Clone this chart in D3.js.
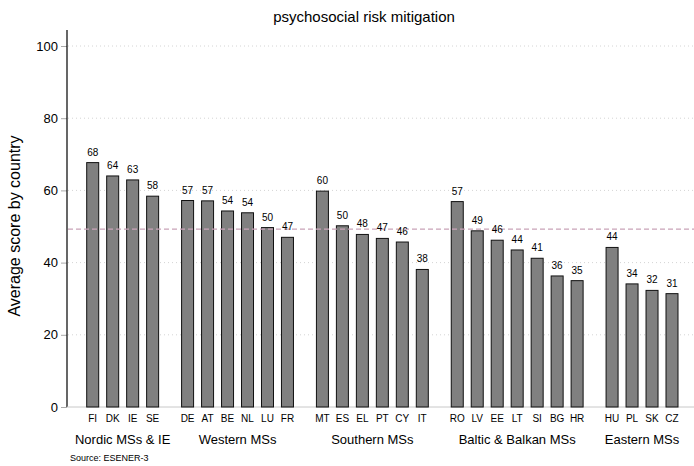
<!DOCTYPE html>
<html>
<head>
<meta charset="utf-8">
<script src="https://cdn.jsdelivr.net/npm/d3@7"></script>
<style>
  body { margin: 0; background: #fff; }
  text { font-family: "Liberation Sans", Arial, sans-serif; fill: #000; }
</style>
</head>
<body>
<svg id="chart"></svg>
<script>
// data
const groups = ['Nordic MSs & IE', 'Western MSs', 'Southern MSs', 'Baltic & Balkan MSs', 'Eastern MSs'];
const countries = [
  ['FI', 'DK', 'IE', 'SE'],
  ['DE', 'AT', 'BE', 'NL', 'LU', 'FR'],
  ['MT', 'ES', 'EL', 'PT', 'CY', 'IT'],
  ['RO', 'LV', 'EE', 'LT', 'SI', 'BG', 'HR'],
  ['HU', 'PL', 'SK', 'CZ']
];
const scores = [
  [67.7, 64.0, 62.9, 58.4],
  [57.2, 57.1, 54.3, 53.8, 49.7, 47.0],
  [59.8, 50.2, 47.8, 46.7, 45.7, 38.1],
  [56.9, 48.8, 46.2, 43.5, 41.2, 36.3, 35.0],
  [44.2, 34.1, 32.3, 31.4]
];
const meanScore = 49.3;
const yTicks = [0, 20, 40, 60, 80, 100];
const title = 'psychosocial risk mitigation';
const yTitle = 'Average score by country';
const source = 'Source: ESENER-3';

const width = 694, height = 466;
const gapSlots = 0.75;

// flatten into rows with a slot position (groups separated by a gap)
const rows = [];
let slot = 0;
groups.forEach(function(g, gi) {
  countries[gi].forEach(function(c, ci) {
    rows.push({ group: g, gi: gi, country: c, value: scores[gi][ci], pos: slot });
    slot += 1;
  });
  slot += gapSlots;
});
const lastPos = rows[rows.length - 1].pos;

const svg = d3.select('#chart').attr('width', width).attr('height', height);

const x = d3.scaleLinear().domain([0, lastPos]).range([92.7, 672]);
const y = d3.scaleLinear().domain([0, 100]).range([407, 46]);
const barW = 12;

// grid lines
svg.append('g')
  .selectAll('line')
  .data(yTicks.filter(function(d) { return d > 0; }))
  .enter().append('line')
  .attr('x1', 68).attr('x2', width)
  .attr('y1', function(d) { return y(d); })
  .attr('y2', function(d) { return y(d); })
  .attr('stroke', '#d4d4d4')
  .attr('stroke-width', 1)
  .attr('stroke-dasharray', '1,3');

// y axis
const yAxis = d3.axisLeft(y).tickValues(yTicks).tickSize(6).tickPadding(3);
const yg = svg.append('g').attr('transform', 'translate(67,0)').call(yAxis);
yg.select('.domain').remove();
yg.selectAll('.tick line').attr('stroke', '#aaa');
yg.selectAll('.tick text')
  .style('font-size', '13px')
  .style('font-family', '"Liberation Sans", Arial, sans-serif');

svg.append('line')
  .attr('x1', 67).attr('x2', 67)
  .attr('y1', 30).attr('y2', 407)
  .attr('stroke', '#000').attr('stroke-width', 1.2);

// zero baseline
svg.append('line')
  .attr('x1', 67).attr('x2', width)
  .attr('y1', y(0)).attr('y2', y(0))
  .attr('stroke', '#c8c8c8').attr('stroke-width', 1);

// bars
svg.append('g')
  .selectAll('rect')
  .data(rows)
  .enter().append('rect')
  .attr('x', function(d) { return x(d.pos) - barW / 2; })
  .attr('y', function(d) { return y(d.value); })
  .attr('width', barW)
  .attr('height', function(d) { return y(0) - y(d.value); })
  .attr('fill', '#808080')
  .attr('stroke', '#111')
  .attr('stroke-width', 1);

// mean line
svg.append('line')
  .attr('x1', 68).attr('x2', width)
  .attr('y1', y(meanScore)).attr('y2', y(meanScore))
  .attr('stroke', '#c9a3b8')
  .attr('stroke-width', 1.2)
  .attr('stroke-dasharray', '5,3');

// value labels
svg.append('g')
  .selectAll('text')
  .data(rows)
  .enter().append('text')
  .attr('x', function(d) { return x(d.pos); })
  .attr('y', function(d) { return y(d.value) - 7; })
  .attr('text-anchor', 'middle')
  .style('font-size', '10px')
  .text(function(d) { return Math.round(d.value); });

// country labels
svg.append('g')
  .selectAll('text')
  .data(rows)
  .enter().append('text')
  .attr('x', function(d) { return x(d.pos); })
  .attr('y', 422)
  .attr('text-anchor', 'middle')
  .style('font-size', '10px')
  .text(function(d) { return d.country; });

// group labels
svg.append('g')
  .selectAll('text')
  .data(groups)
  .enter().append('text')
  .attr('x', function(d, gi) {
    const r = rows.filter(function(row) { return row.gi === gi; });
    return (x(r[0].pos) + x(r[r.length - 1].pos)) / 2;
  })
  .attr('y', 444)
  .attr('text-anchor', 'middle')
  .style('font-size', '13px')
  .text(function(d) { return d; });

// titles
svg.append('text')
  .attr('x', 364).attr('y', 22)
  .attr('text-anchor', 'middle')
  .style('font-size', '15px')
  .text(title);

svg.append('text')
  .attr('transform', 'translate(20,' + 226 + ') rotate(-90)')
  .attr('text-anchor', 'middle')
  .style('font-size', '16px')
  .text(yTitle);

svg.append('text')
  .attr('x', 70).attr('y', 461)
  .style('font-size', '9px')
  .text(source);
</script>
</body>
</html>
